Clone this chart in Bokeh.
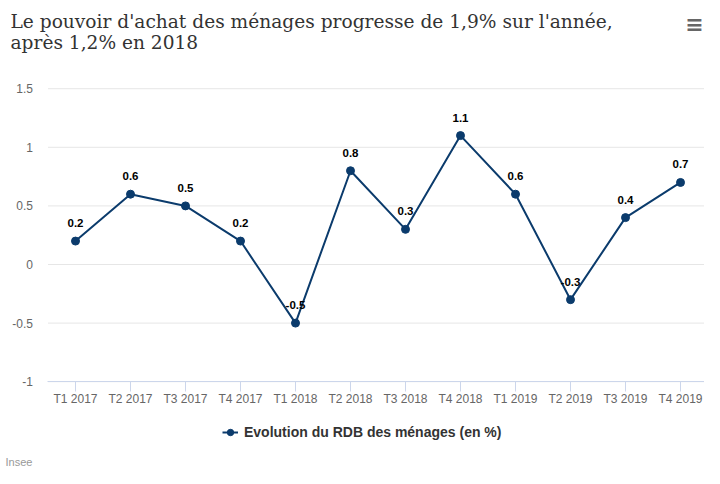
from bokeh.plotting import figure
from bokeh.models import (Label, Legend, LegendItem, FixedTicker, ColumnDataSource,
                          Range1d, NumeralTickFormatter, CustomJSTickFormatter)
from bokeh.core.properties import value
from bokeh.embed import file_html
from bokeh.resources import INLINE

categories = ["T1 2017", "T2 2017", "T3 2017", "T4 2017",
              "T1 2018", "T2 2018", "T3 2018", "T4 2018",
              "T1 2019", "T2 2019", "T3 2019", "T4 2019"]
rdb_values = [0.2, 0.6, 0.5, 0.2, -0.5, 0.8, 0.3, 1.1, 0.6, -0.3, 0.4, 0.7]
y_ticks = [-1, -0.5, 0, 0.5, 1, 1.5]
series_name = "Evolution du RDB des ménages (en %)"
title_lines = ["Le pouvoir d'achat des ménages progresse de 1,9% sur l'année,",
               "après 1,2% en 2018"]
credit_text = "Insee"

NAVY = "#0b3b6c"
FONT = "Liberation Sans"
W, H = 704, 468

idx = list(range(len(categories)))
src = ColumnDataSource(dict(x=idx, val=rdb_values, lab=[f"{v:g}" for v in rdb_values]))

# the frame covers the whole canvas; axes are pinned inside it
x_lo, x_hi = -0.5, len(categories) - 0.5
p = figure(x_range=Range1d(-1.3636, 11.436), y_range=Range1d(-1.7406, 2.2526),
           width=W, height=H, output_backend="svg", toolbar_location=None,
           min_border=0, min_border_left=0, min_border_right=0,
           min_border_top=0, min_border_bottom=0)
p.outline_line_color = None
p.background_fill_color = "white"
p.border_fill_color = "white"
p.xgrid.visible = False
p.ygrid.visible = False

# horizontal grid lines over the plot area
p.segment(x0=[x_lo] * len(y_ticks), x1=[x_hi] * len(y_ticks), y0=y_ticks, y1=y_ticks,
          line_color="#e6e6e6", line_width=1)

p.yaxis.fixed_location = x_lo
p.yaxis.ticker = FixedTicker(ticks=y_ticks)
p.yaxis.formatter = NumeralTickFormatter(format="0.[0]")
p.yaxis.axis_line_color = None
p.yaxis.major_tick_line_color = None
p.yaxis.minor_tick_line_color = None
p.yaxis.major_tick_out = 0
p.yaxis.major_tick_in = 0
p.yaxis.major_label_standoff = 15
p.yaxis.major_label_text_font = FONT
p.yaxis.major_label_text_font_size = "12px"
p.yaxis.major_label_text_color = "#666666"

p.xaxis.fixed_location = y_ticks[0]
p.xaxis.bounds = (x_lo, x_hi)
p.xaxis.ticker = FixedTicker(ticks=idx)
p.xaxis.formatter = CustomJSTickFormatter(args=dict(cats=categories),
                                          code="const i = Math.round(tick); return cats[i] || '';")
p.xaxis.axis_line_color = "#ccd6eb"
p.xaxis.major_tick_line_color = "#ccd6eb"
p.xaxis.minor_tick_line_color = None
p.xaxis.major_tick_out = 10
p.xaxis.major_tick_in = 0
p.xaxis.major_label_standoff = 0
p.xaxis.major_label_text_font = FONT
p.xaxis.major_label_text_font_size = "12px"
p.xaxis.major_label_text_color = "#666666"

line_r = p.line(x="x", y="val", source=src, line_color=NAVY, line_width=2)
pts_r = p.scatter(x="x", y="val", source=src, size=8, fill_color=NAVY, line_color=NAVY)
p.text(x="x", y="val", text="lab", source=src, text_font=value(FONT),
       text_font_style="bold", text_font_size="11.5px", text_color="black",
       text_align="center", text_baseline="middle", y_offset=-18)

legend = Legend(items=[LegendItem(label=series_name, renderers=[line_r, pts_r])],
                orientation="horizontal", location=(222, 28),
                border_line_color=None, background_fill_alpha=0,
                label_text_font=FONT, label_text_font_style="bold",
                label_text_font_size="14px", label_text_color="#333333",
                glyph_width=16, glyph_height=16, label_standoff=6,
                padding=6, margin=0)
p.add_layout(legend, "center")

# title lines, menu icon, credits (screen units from the frame's bottom-left)
p.add_layout(Label(x=10, y=H - 21, x_units="screen", y_units="screen", text=title_lines[0],
                   text_font="DejaVu Serif", text_font_size="18.6px", text_color="#333333",
                   text_baseline="alphabetic"))
p.add_layout(Label(x=10, y=H - 42, x_units="screen", y_units="screen", text=title_lines[1],
                   text_font="DejaVu Serif", text_font_size="18.6px", text_color="#333333",
                   text_baseline="alphabetic"))
p.add_layout(Label(x=694, y=H - 24, x_units="screen", y_units="screen", text="≡",
                   text_font="DejaVu Sans", text_font_size="22px", text_font_style="bold",
                   text_color="#666666", text_align="center", text_baseline="middle"))
p.add_layout(Label(x=5, y=1, x_units="screen", y_units="screen", text=credit_text,
                   text_font=FONT, text_font_size="11px", text_color="#999999",
                   text_baseline="bottom"))

open("out.html", "w").write(file_html(p, INLINE))
